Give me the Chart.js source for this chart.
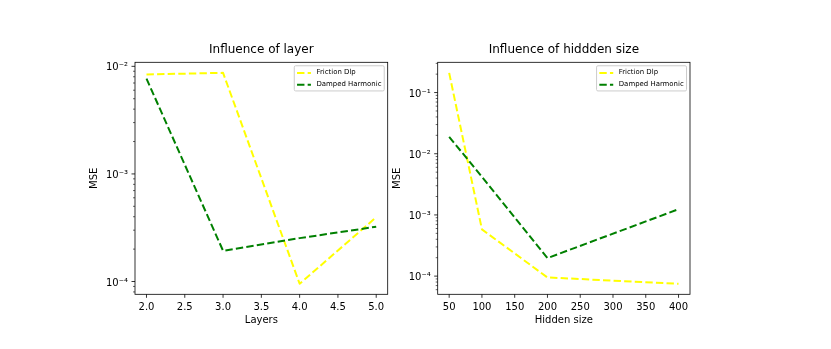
<!DOCTYPE html>
<html><head><meta charset="utf-8">
<script src="https://cdn.jsdelivr.net/npm/chart.js@4.4.1/dist/chart.umd.min.js"></script>
<style>
html,body{margin:0;padding:0;background:#fff;}
#wrap{position:relative;width:831px;height:349px;overflow:hidden;background:#fff;}
canvas{position:absolute;left:0;top:0;}
</style>
</head><body>
<div id="wrap"><canvas id="c1" width="831" height="349"></canvas><canvas id="c2" width="831" height="349"></canvas></div>
<script>
// ---- data ----
const seriesNames = ['Friction Dlp', 'Damped Harmonic'];
const seriesColors = ['#ffff00', '#008000'];

const layers = [2, 3, 4, 5];
const layerFriction = [0.0084, 0.0087, 0.0000953, 0.000396];
const layerDamped = [0.00769, 0.000193, 0.000253, 0.000323];
const layerTickValues = [2.0, 2.5, 3.0, 3.5, 4.0, 4.5, 5.0];

const hiddenSizes = [50, 100, 200, 400];
const hiddenFriction = [0.21, 0.00058, 0.000095, 0.000075];
const hiddenDamped = [0.0189, 0.0042, 0.000197, 0.00124];
const hiddenTickValues = [50, 100, 150, 200, 250, 300, 350, 400];

const titles = ['Influence of layer', 'Influence of hiddden size'];
const xTitles = ['Layers', 'Hidden size'];
const yTitle = 'MSE';

// ---- helpers ----
const FONT = '"DejaVu Sans", "Liberation Sans", sans-serif';
Chart.defaults.color = '#000';
Chart.defaults.font.family = FONT;

const SUP = {'-':'\u207B','0':'\u2070','1':'\u00B9','2':'\u00B2','3':'\u00B3','4':'\u2074','5':'\u2075','6':'\u2076','7':'\u2077','8':'\u2078','9':'\u2079'};
function sup(n){ return String(n).split('').map(c => SUP[c]).join(''); }

function logLimits(values){
  const l = values.map(v => Math.log10(v));
  const lo = Math.min(...l), hi = Math.max(...l), m = (hi - lo) * 0.05;
  return [Math.pow(10, lo - m), Math.pow(10, hi + m)];
}
function linLimits(values){
  const lo = Math.min(...values), hi = Math.max(...values), m = (hi - lo) * 0.05;
  return [lo - m, hi + m];
}

const framePlugin = {
  id: 'mplFrame',
  afterDraw(chart){
    const ctx = chart.ctx, a = chart.chartArea;
    const xs = chart.scales.x, ys = chart.scales.y;
    ctx.save();
    ctx.strokeStyle = '#000';
    ctx.setLineDash([]);
    ctx.lineWidth = 0.8;
    xs.ticks.forEach(t => {
      const px = xs.getPixelForValue(t.value);
      ctx.beginPath(); ctx.moveTo(px, a.bottom); ctx.lineTo(px, a.bottom + 3.5); ctx.stroke();
    });
    const e0 = Math.floor(Math.log10(ys.min)), e1 = Math.ceil(Math.log10(ys.max));
    for (let e = e0; e <= e1; e++) {
      for (let k = 1; k <= 9; k++) {
        const v = k * Math.pow(10, e);
        if (v < ys.min || v > ys.max) continue;
        const py = ys.getPixelForValue(v);
        const len = k === 1 ? 3.5 : 2;
        ctx.lineWidth = k === 1 ? 0.8 : 0.6;
        ctx.beginPath(); ctx.moveTo(a.left, py); ctx.lineTo(a.left - len, py); ctx.stroke();
      }
    }
    ctx.lineWidth = 0.8;
    ctx.strokeRect(a.left, a.top, a.right - a.left, a.bottom - a.top);
    ctx.restore();
  }
};

const legendPlugin = {
  id: 'mplLegend',
  afterDatasetsDraw(chart){
    const ctx = chart.ctx, a = chart.chartArea, f = 6.94;
    const ds = chart.data.datasets;
    ctx.save();
    ctx.font = f + 'px ' + FONT;
    const tw = Math.max(...ds.map(d => ctx.measureText(d.label).width));
    const th = f * 1.164;
    const w = f * (0.4 * 2 + 2 + 0.8) + tw;
    const h = f * 0.4 * 2 + ds.length * th + (ds.length - 1) * 0.5 * f;
    const x = a.right - 0.5 * f - w, y = a.top + 0.5 * f;
    ctx.beginPath();
    if (ctx.roundRect) ctx.roundRect(x, y, w, h, 0.2 * f); else ctx.rect(x, y, w, h);
    ctx.fillStyle = 'rgba(255,255,255,0.8)';
    ctx.fill();
    ctx.strokeStyle = '#cccccc';
    ctx.lineWidth = 1;
    ctx.stroke();
    ds.forEach((d, i) => {
      const cy = y + 0.4 * f + i * (th + 0.5 * f) + th / 2;
      ctx.save();
      ctx.strokeStyle = d.borderColor;
      ctx.lineWidth = d.borderWidth;
      ctx.setLineDash(d.borderDash);
      ctx.lineCap = 'butt';
      ctx.beginPath(); ctx.moveTo(x + 0.4 * f, cy + 0.5); ctx.lineTo(x + 2.4 * f, cy + 0.5); ctx.stroke();
      ctx.restore();
      ctx.fillStyle = '#000';
      ctx.textBaseline = 'middle';
      ctx.textAlign = 'left';
      ctx.fillText(d.label, x + 3.2 * f, cy);
    });
    ctx.restore();
  }
};

function makeChart(id, xs, ys, xTicks, xFmt, title, xTitle, box){
  const datasets = ys.map((arr, i) => ({
    label: seriesNames[i],
    data: xs.map((x, j) => ({x: x, y: arr[j]})),
    borderColor: seriesColors[i],
    backgroundColor: seriesColors[i],
    borderWidth: 2,
    borderDash: [7.4, 3.2],
    borderCapStyle: 'butt',
    borderJoinStyle: 'round',
    pointRadius: 0,
    tension: 0,
    fill: false,
    order: ys.length - i
  }));
  const [xmin, xmax] = linLimits(xs);
  const [ymin, ymax] = logLimits([].concat(...ys));
  return new Chart(document.getElementById(id), {
    type: 'line',
    data: { datasets },
    options: {
      responsive: false,
      animation: false,
      devicePixelRatio: 1,
      layout: { padding: { left: 0, right: box.padRight, top: 0, bottom: 0 } },
      plugins: {
        legend: { display: false },
        tooltip: { enabled: false },
        title: {
          display: true, text: title, fullSize: false, color: '#000',
          font: { family: FONT, size: 12, weight: 'normal' },
          padding: { top: 42.9, bottom: 5.0 }
        }
      },
      scales: {
        x: {
          type: 'linear', min: xmin, max: xmax,
          grid: { display: false, drawTicks: false }, border: { display: false },
          afterBuildTicks: s => { s.ticks = xTicks.map(v => ({ value: v })); },
          afterFit: s => { s.height = 54.7; },
          ticks: { padding: 7, autoSkip: false, maxRotation: 0, color: '#000',
                   font: { family: FONT, size: 10 }, callback: xFmt },
          title: { display: true, text: xTitle, color: '#000',
                   font: { family: FONT, size: 10, weight: 'normal' },
                   padding: { top: 0, bottom: 22.7 } }
        },
        y: {
          type: 'logarithmic', min: ymin, max: ymax,
          grid: { display: false, drawTicks: false }, border: { display: false },
          afterFit: s => { s.width = box.axisLeft; },
          ticks: { padding: 7, autoSkip: false, color: '#000', labelOffset: 1.5,
                   font: { family: FONT, size: 10 },
                   callback: v => { const e = Math.log10(v); return Math.abs(e - Math.round(e)) < 1e-9 ? '10' + sup(Math.round(e)) : ''; } },
          title: { display: true, text: yTitle, color: '#000',
                   font: { family: FONT, size: 10, weight: 'normal' },
                   padding: { top: box.yTitleOffset, bottom: 0 } }
        }
      }
    },
    plugins: [framePlugin, legendPlugin]
  });
}

makeChart('c1', layers, [layerFriction, layerDamped], layerTickValues, v => Number(v).toFixed(1),
  titles[0], xTitles[0], { padRight: 831 - 387.7, axisLeft: 135, yTitleOffset: 88.5 });
makeChart('c2', hiddenSizes, [hiddenFriction, hiddenDamped], hiddenTickValues, v => String(v),
  titles[1], xTitles[1], { padRight: 831 - 690, axisLeft: 437.7, yTitleOffset: 391.5 });
</script>
</body></html>
